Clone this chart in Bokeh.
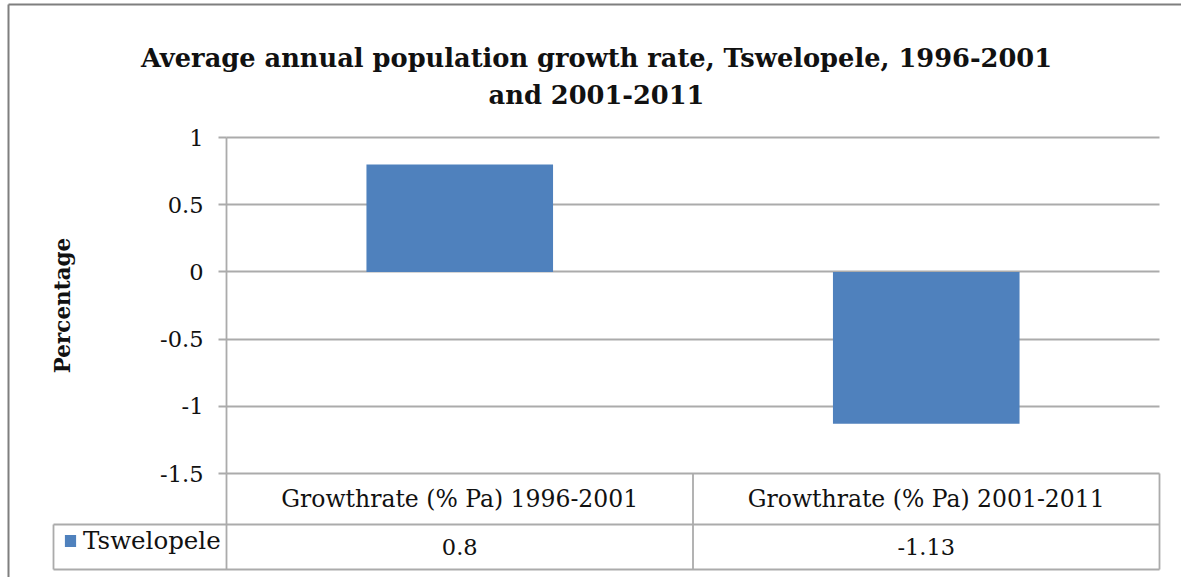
from bokeh.plotting import figure
from bokeh.models import (Range1d, LinearAxis, FixedTicker, Grid, Legend, LegendItem,
                          ColumnDataSource)
from bokeh.core.properties import value
from bokeh.embed import file_html
from bokeh.resources import INLINE

# ---------------- data ----------------
categories = ["Growthrate (% Pa) 1996-2001", "Growthrate (% Pa) 2001-2011"]
series_name = "Tswelopele"
growth = [0.8, -1.13]
y_ticks = [-1.5, -1.0, -0.5, 0.0, 0.5, 1.0]
y_tick_labels = ["-1.5", "-1", "-0.5", "0", "0.5", "1"]
title_lines = ["Average annual population growth rate, Tswelopele, 1996-2001",
               "and 2001-2011"]
y_label = "Percentage"

# ---------------- layout (pixels) ----------------
W, H = 1181, 577
PLOT_L, PLOT_R = 226, 1159          # plot area left / right
PX_TOP, PX_BOT = 137, 473           # pixel rows of the top and bottom y ticks
ROW1_PX, ROW2_PX = 524, 569         # table row separators
LEG_L_PX = 53                       # left edge of legend cell
BORDER_L_PX, BORDER_T_PX = 8, 4

FONT = "DejaVu Serif"
BAR_COLOR = "#4F81BD"
GRID_COLOR = "#ababab"
TEXT_COLOR = "#111111"
TXT_SIZE = "23.5px"

n = len(categories)
cat_w = (PLOT_R - PLOT_L) / n
y_hi, y_lo = max(y_ticks), min(y_ticks)
ppu = (PX_BOT - PX_TOP) / (y_hi - y_lo)


def xd(px):
    return (px - PLOT_L) / cat_w


def yd(py):
    return y_hi - (py - PX_TOP) / ppu


p = figure(width=W, height=H, output_backend="svg", toolbar_location=None,
           x_range=Range1d(xd(0), xd(W)), y_range=Range1d(yd(H), yd(0)),
           x_axis_location=None, y_axis_location=None, min_border=0)
p.outline_line_color = None
p.background_fill_color = "white"
p.border_fill_color = "white"
p.renderers = []
p.center = [r for r in p.center if not isinstance(r, Grid)]

# ---------------- grid ----------------
grid = Grid(dimension=1, ticker=FixedTicker(ticks=y_ticks, minor_ticks=[]),
            grid_line_color=GRID_COLOR, grid_line_width=1.8)
try:
    grid.cross_bounds = (0, n)
    p.add_layout(grid)
except AttributeError:
    p.segment(x0=[0] * len(y_ticks), x1=[n] * len(y_ticks), y0=y_ticks, y1=y_ticks,
              line_color=GRID_COLOR, line_width=1.8)

# ---------------- bars ----------------
xs = [i + 0.5 for i in range(n)]
src = ColumnDataSource(dict(x=xs, top=growth, cat=categories))
bars = p.vbar(x="x", top="top", bottom=0, width=0.4, source=src,
              fill_color=BAR_COLOR, line_color=None)

# ---------------- y axis ----------------
yaxis = LinearAxis(fixed_location=0,
                   ticker=FixedTicker(ticks=y_ticks, minor_ticks=[]),
                   major_label_overrides={t: l for t, l in zip(y_ticks, y_tick_labels)},
                   bounds=(y_lo, y_hi),
                   axis_label=y_label)
yaxis.axis_line_color = GRID_COLOR
yaxis.axis_line_width = 1.8
yaxis.major_tick_line_color = GRID_COLOR
yaxis.major_tick_line_width = 1.8
yaxis.major_tick_in = 0
yaxis.major_tick_out = 8
yaxis.minor_tick_line_color = None
yaxis.major_label_standoff = 15
yaxis.major_label_text_font = FONT
yaxis.major_label_text_font_size = "22.5px"
yaxis.major_label_text_color = TEXT_COLOR
yaxis.axis_label_text_font = FONT
yaxis.axis_label_text_font_style = "bold"
yaxis.axis_label_text_font_size = "21.5px"
yaxis.axis_label_text_color = TEXT_COLOR
yaxis.axis_label_standoff = 82
p.add_layout(yaxis, "left")

# ---------------- data table ----------------
seg_x0 = [xd(LEG_L_PX), xd(LEG_L_PX)] + [i for i in range(n + 1)] + [xd(LEG_L_PX)]
seg_x1 = [n, n] + [i for i in range(n + 1)] + [xd(LEG_L_PX)]
seg_y0 = [yd(ROW1_PX), yd(ROW2_PX)] + [y_lo] * (n + 1) + [yd(ROW1_PX)]
seg_y1 = [yd(ROW1_PX), yd(ROW2_PX)] + [yd(ROW2_PX)] * (n + 1) + [yd(ROW2_PX)]
p.segment(x0=seg_x0, x1=seg_x1, y0=seg_y0, y1=seg_y1,
          line_color=GRID_COLOR, line_width=1.8)

p.text(x=xs, y=[yd((PX_BOT + ROW1_PX) / 2)] * n, text=categories,
       text_align="center", text_baseline="middle",
       text_font=value(FONT), text_font_size=TXT_SIZE, text_color=TEXT_COLOR)
p.text(x=xs, y=[yd((ROW1_PX + ROW2_PX) / 2)] * n, text=[f"{v:g}" for v in growth],
       text_align="center", text_baseline="middle",
       text_font=value(FONT), text_font_size="22.5px", text_color=TEXT_COLOR)

legend = Legend(items=[LegendItem(label=series_name, renderers=[bars])],
                location=(63, H - 555), orientation="horizontal",
                glyph_width=14, glyph_height=15, label_standoff=6,
                padding=0, margin=0, border_line_color=None,
                background_fill_alpha=0,
                label_text_font=FONT, label_text_font_size="24.5px",
                label_text_color=TEXT_COLOR)
p.add_layout(legend)

# ---------------- title ----------------
p.text(x=[xd(596)] * len(title_lines), y=[yd(57), yd(94)], text=title_lines,
       text_align="center", text_baseline="alphabetic",
       text_font=value(FONT), text_font_style="bold", text_font_size="25.7px",
       text_color=TEXT_COLOR)

# ---------------- chart border (left / top) ----------------
p.segment(x0=[xd(BORDER_L_PX), xd(BORDER_L_PX)], x1=[xd(BORDER_L_PX), xd(W + 20)],
          y0=[yd(BORDER_T_PX), yd(BORDER_T_PX)], y1=[yd(H + 20), yd(BORDER_T_PX)],
          line_color="#7f7f7f", line_width=2)

open("out.html", "w").write(file_html(p, INLINE))
